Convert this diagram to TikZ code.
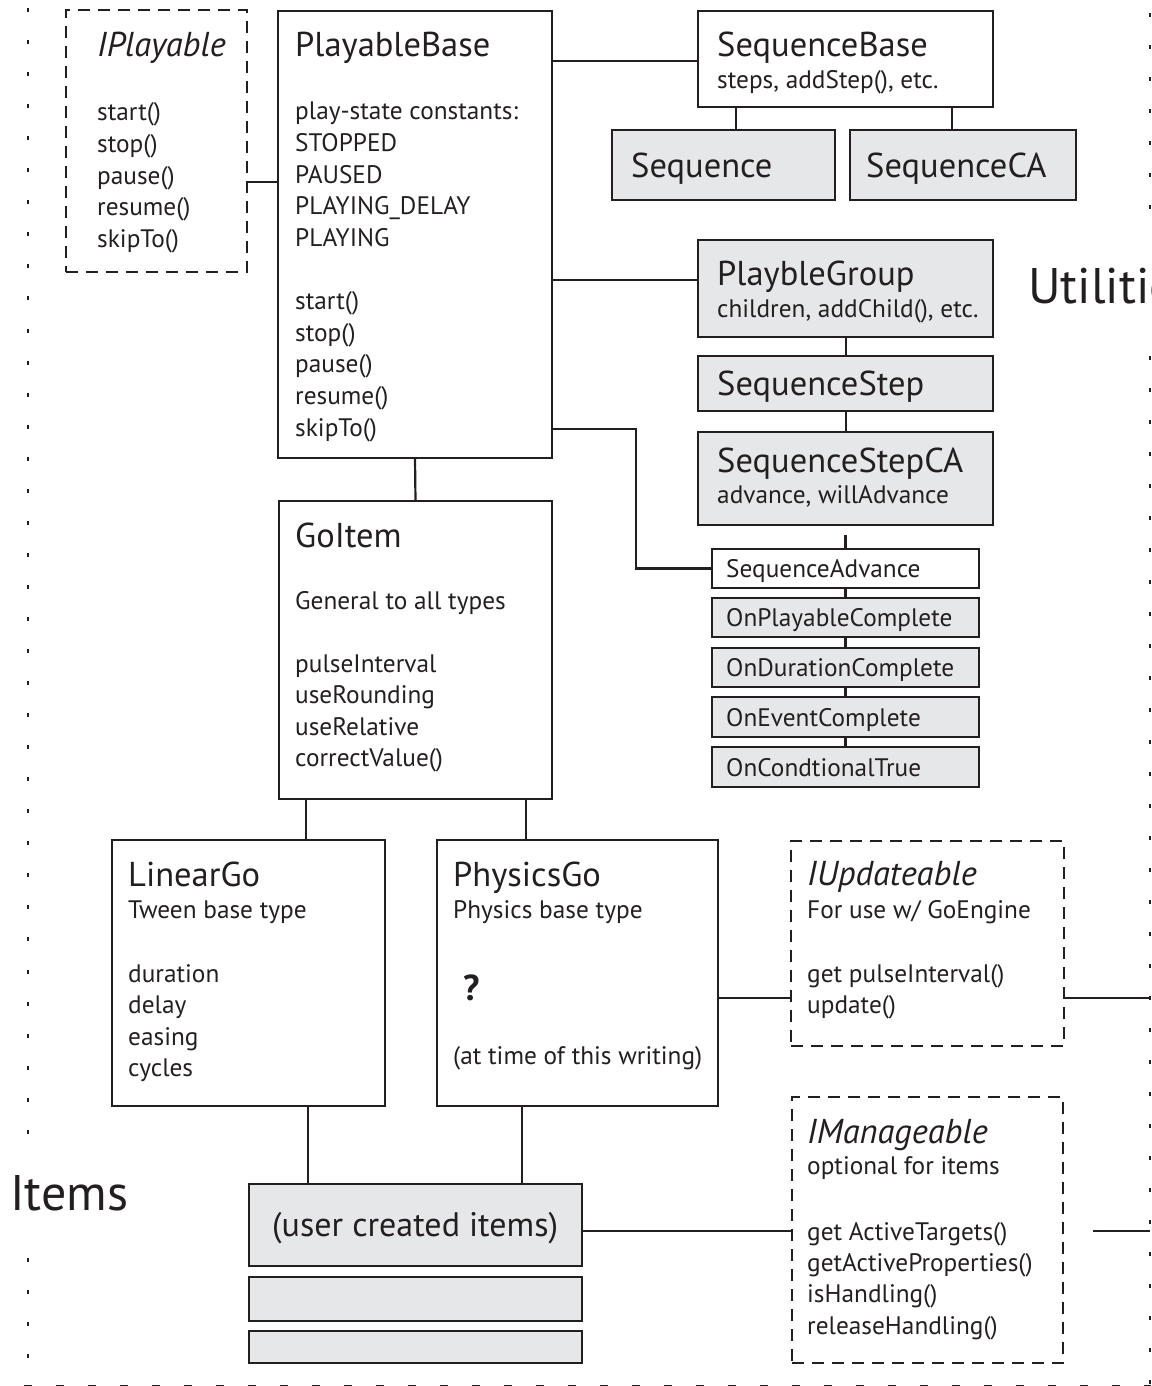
\documentclass[tikz,border=0pt]{standalone}
\usepackage{fontspec}
\setmainfont{PT Sans}
\usetikzlibrary{fit}
\definecolor{ink}{HTML}{231F20}
\definecolor{boxgray}{HTML}{E6E7E8}
\begin{document}
\begin{tikzpicture}[x=1pt,y=-1pt,
  box/.style={draw=ink, line width=2.5pt, inner sep=0pt, outer sep=0pt},
  gbox/.style={box, fill=boxgray},
  dbox/.style={draw=ink, line width=2.5pt, dash pattern=on 12pt off 8pt, inner sep=0pt, outer sep=0pt},
  conn/.style={draw=ink, line width=2.2pt},
  border/.style={draw=ink, line width=2pt},
  ttl/.style={anchor=base west, inner sep=0pt, text=ink, font=\fontsize{34.5}{40}\selectfont},
  ittl/.style={anchor=base west, inner sep=0pt, text=ink, font=\fontsize{34.5}{40}\selectfont\itshape},
  txt/.style={anchor=base west, inner sep=0pt, text=ink, font=\fontsize{25.3}{30}\selectfont},
  big/.style={anchor=base west, inner sep=0pt, text=ink, font=\fontsize{50}{60}\selectfont},
]
\useasboundingbox (0,0) rectangle (1151,1386);

% outer dashed border
\draw[border, dash pattern=on 4pt off 28.05pt] (28,8) -- (28,1134);
\draw[border, dash pattern=on 4pt off 28.05pt] (28,1258) -- (28,1386);
\draw[border, dash pattern=on 4pt off 28pt] (1150,13) -- (1150,212);
\draw[border, dash pattern=on 4pt off 28pt] (1150,356) -- (1150,1386);
\draw[border, dash pattern=on 8pt off 24pt] (24,1385.5) -- (1151,1385.5);

% boxes
\node[dbox, fit={(66,10) (247,272)}] (ip) {};
\node[box, fit={(278,11) (552,458)}] (pb) {};
\node[box, fit={(698,11) (993,107)}] (sb) {};
\node[gbox, fit={(612,130) (835,200)}] (seq) {};
\node[gbox, fit={(850,130) (1076,200)}] (seqca) {};
\node[gbox, fit={(698,240) (993,337)}] (pgr) {};
\node[gbox, fit={(698,356) (993,411)}] (ss) {};
\node[gbox, fit={(698,432) (993,525)}] (ssca) {};
\node[box, fit={(712,549) (979,588)}] (sa) {};
\node[gbox, fit={(712,598) (979,637)}] (opc) {};
\node[gbox, fit={(712,648) (979,687)}] (odc) {};
\node[gbox, fit={(712,697) (979,737)}] (oec) {};
\node[gbox, fit={(712,747) (979,787)}] (oct) {};
\node[box, fit={(279,501) (552,799)}] (gi) {};
\node[box, fit={(112,840) (385,1106)}] (lg) {};
\node[box, fit={(437,840) (718,1106)}] (phg) {};
\node[dbox, fit={(791,841) (1064,1046)}] (iu) {};
\node[dbox, fit={(792,1097) (1063,1363)}] (im) {};
\node[gbox, fit={(249,1184) (582,1266)}] (uci) {};
\node[gbox, fit={(249,1277) (582,1321)}] (uc2) {};
\node[gbox, fit={(249,1331) (582,1363)}] (uc3) {};

% connectors
\draw[conn] (ip.east |- 0,182) -- (pb.west |- 0,182);
\draw[conn] (pb.east |- 0,61) -- (sb.west |- 0,61);
\draw[conn] (pb.east |- 0,280) -- (pgr.west |- 0,280);
\draw[conn] (pb.east |- 0,429) -| (636,0 |- sa.west) -- (sa.west);
\draw[conn] (sb.south -| 736,0) -- (seq.north -| 736,0);
\draw[conn] (sb.south -| 952,0) -- (seqca.north -| 952,0);
\draw[conn] (pgr.south -| 846,0) -- (ss.north -| 846,0);
\draw[conn] (ss.south -| 846,0) -- (ssca.north -| 846,0);
\coordinate (gapend) at (845.5,535);
\draw[conn] (gapend) -- (sa.north);
\draw[conn] (sa.south) -- (opc.north);
\draw[conn] (opc.south) -- (odc.north);
\draw[conn] (odc.south) -- (oec.north);
\draw[conn] (oec.south) -- (oct.north);
\draw[conn] (pb.south) -- (gi.north);
\draw[conn] (gi.south -| 306,0) -- (lg.north -| 306,0);
\draw[conn] (gi.south -| 526,0) -- (phg.north -| 526,0);
\draw[conn] (lg.south -| 308,0) -- (uci.north -| 308,0);
\draw[conn] (phg.south -| 522,0) -- (uci.north -| 522,0);
\draw[conn] (phg.east |- 0,998) -- (iu.west |- 0,998);
\coordinate (ut1) at (1150,998);
\draw[conn] (iu.east |- ut1) -- (ut1);
\draw[conn] (uci.east |- 0,1231) -- (im.west |- 0,1231);
\coordinate (im2) at (1093,1231);
\coordinate (ut2) at (1150,1231);
\draw[conn] (im2) -- (ut2);

% texts
\node[ittl] (t-ip) at (97,57) {IPlayable};
\foreach \t [count=\i from 0] in {start(),stop(),pause(),resume(),skipTo()}
  \node[txt] (ip-\i) at (97,{121+31.6*\i}) {\t};

\node[ttl] (t-pb) at (295,57) {PlayableBase};
\foreach \t [count=\i from 0] in {play-state constants:,STOPPED,PAUSED,PLAYING\_DELAY,PLAYING}
  \node[txt] (pbc-\i) at (295,{120+31.6*\i}) {\t};
\foreach \t [count=\i from 0] in {start(),stop(),pause(),resume(),skipTo()}
  \node[txt] (pbm-\i) at (295,{309.6+31.6*\i}) {\t};

\node[ttl] (t-sb) at (717,57) {SequenceBase};
\node[txt] (s-sb) at (717,89) {steps, addStep(), etc.};
\node[ttl] (t-seq) at (631,177) {Sequence};
\node[ttl] (t-seqca) at (866,177) {SequenceCA};
\node[ttl] (t-pgr) at (717,285) {PlaybleGroup};
\node[txt] (s-pgr) at (717,317) {children, addChild(), etc.};
\node[ttl] (t-ss) at (717,395) {SequenceStep};
\node[ttl] (t-ssca) at (717,472) {SequenceStepCA};
\node[txt] (s-ssca) at (717,503) {advance, willAdvance};

\node[txt] (t-sa) at (726,577) {SequenceAdvance};
\node[txt] (t-opc) at (726,626) {OnPlayableComplete};
\node[txt] (t-odc) at (726,676) {OnDurationComplete};
\node[txt] (t-oec) at (726,726) {OnEventComplete};
\node[txt] (t-oct) at (726,776) {OnCondtionalTrue};

\node[ttl] (t-gi) at (295,547) {GoItem};
\node[txt] (s-gi) at (295,609) {General to all types};
\foreach \t [count=\i from 0] in {pulseInterval,useRounding,useRelative,correctValue()}
  \node[txt] (gi-\i) at (295,{672+31.6*\i}) {\t};

\node[ttl] (t-lg) at (128,886) {LinearGo};
\node[txt] (s-lg) at (128,918) {Tween base type};
\foreach \t [count=\i from 0] in {duration,delay,easing,cycles}
  \node[txt] (lg-\i) at (128,{982+31.6*\i}) {\t};

\node[ttl] (t-phg) at (453,886) {PhysicsGo};
\node[txt] (s-phg) at (453,918) {Physics base type};
\node[anchor=base west, inner sep=0pt, text=ink, font=\fontsize{36}{40}\selectfont\bfseries] (q-phg) at (463,1000) {?};
\node[txt] (n-phg) at (453,1064) {(at time of this writing)};

\node[ittl] (t-iu) at (807,885) {IUpdateable};
\node[txt] (s-iu) at (807,918) {For use w/ GoEngine};
\node[txt] (iu-0) at (807,982) {get pulseInterval()};
\node[txt] (iu-1) at (807,1013.6) {update()};

\node[ittl] (t-im) at (807,1143) {IManageable};
\node[txt] (s-im) at (807,1174) {optional for items};
\foreach \t [count=\i from 0] in {get ActiveTargets(),getActiveProperties(),isHandling(),releaseHandling()}
  \node[txt] (im-\i) at (807,{1240+31.4*\i}) {\t};

\node[anchor=base west, inner sep=0pt, text=ink, font=\fontsize{34}{40}\selectfont] (t-uci) at (272,1236) {(user created items)};

\node[big] (items) at (10,1210) {Items};
\node[big] (utils) at (1028,303) {Utilities};
\end{tikzpicture}
\end{document}
